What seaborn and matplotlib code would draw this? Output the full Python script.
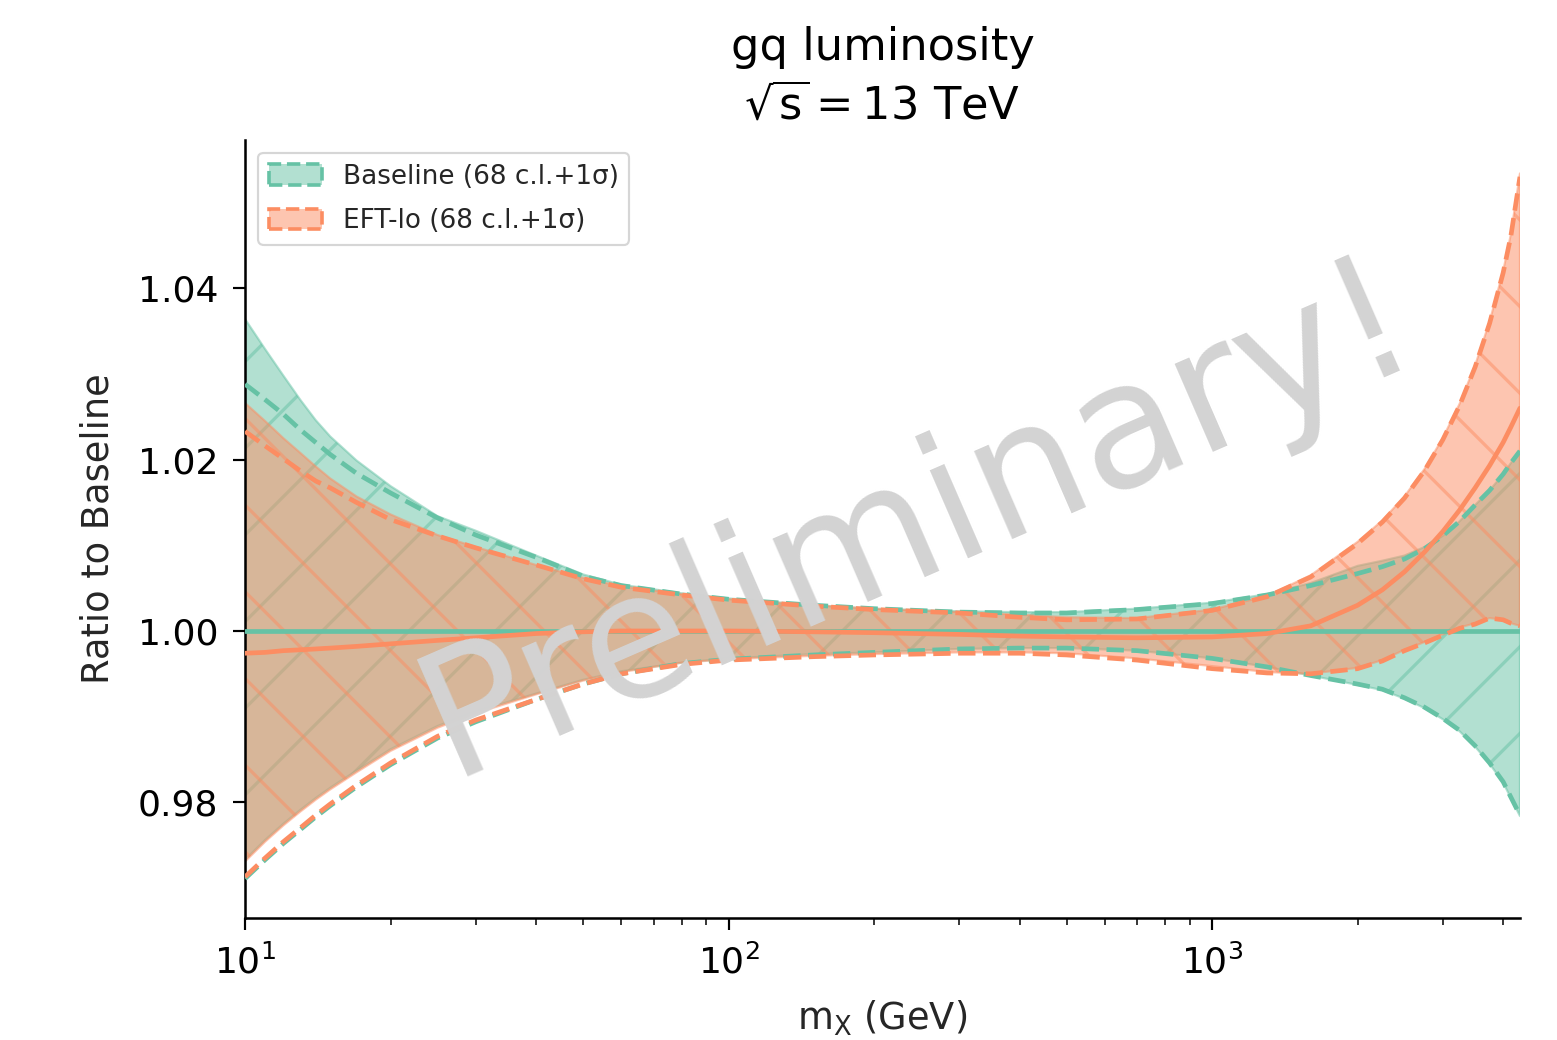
import matplotlib
matplotlib.use('Agg')
import matplotlib.pyplot as plt
import matplotlib.patches as mpatches
import seaborn as sns

# gq 루미노시티 비율 (Baseline 대비), sqrt(s) = 13 TeV
mx = [10, 11, 12, 13, 14, 15, 17, 20, 25, 30, 40, 50, 60, 80, 100, 150, 200, 300, 400, 500,
      700, 1000, 1300, 1600, 2000, 2250, 2500, 2750, 3000, 3250, 3500, 3750, 4000, 4150, 4333]

# Baseline : 중심값, 68 c.l. 밴드, 1 sigma
base_cv = [1.0] * len(mx)
base_up68 = [1.0364, 1.0329, 1.0298, 1.0270, 1.0246, 1.0227, 1.0199, 1.0169, 1.0134, 1.0117,
             1.0088, 1.0066, 1.0054, 1.0044, 1.0038, 1.0030, 1.0026, 1.0023, 1.0022, 1.0022,
             1.0026, 1.0033, 1.0043, 1.0056, 1.0076, 1.0082, 1.0088, 1.0098, 1.0111, 1.0128,
             1.0147, 1.0164, 1.0183, 1.0196, 1.0210]
base_dn68 = [0.9733, 0.9756, 0.9775, 0.9791, 0.9805, 0.9817, 0.9837, 0.9862, 0.9889, 0.9906,
             0.9927, 0.9943, 0.9953, 0.9963, 0.9968, 0.9973, 0.9975, 0.9979, 0.9980, 0.9980,
             0.9977, 0.9968, 0.9958, 0.9948, 0.9937, 0.9931, 0.9921, 0.9910, 0.9897, 0.9883,
             0.9865, 0.9845, 0.9823, 0.9805, 0.9784]
base_up1s = [1.0288, 1.0270, 1.0253, 1.0235, 1.0220, 1.0206, 1.0184, 1.0161, 1.0132, 1.0112,
             1.0086, 1.0064, 1.0053, 1.0043, 1.0037, 1.0030, 1.0026, 1.0022, 1.0021, 1.0021,
             1.0025, 1.0032, 1.0042, 1.0053, 1.0067, 1.0075, 1.0084, 1.0096, 1.0111, 1.0128,
             1.0147, 1.0164, 1.0183, 1.0196, 1.0210]
base_dn1s = [0.9711, 0.9733, 0.9752, 0.9768, 0.9783, 0.9796, 0.9818, 0.9844, 0.9875, 0.9894,
             0.9920, 0.9938, 0.9950, 0.9962, 0.9967, 0.9972, 0.9975, 0.9979, 0.9980, 0.9980,
             0.9977, 0.9968, 0.9958, 0.9948, 0.9938, 0.9932, 0.9922, 0.9911, 0.9898, 0.9884,
             0.9866, 0.9846, 0.9824, 0.9806, 0.9785]

# EFT-lo
eft_cv = [0.9974, 0.9975, 0.9977, 0.9978, 0.9979, 0.9980, 0.9982, 0.9985, 0.9989, 0.9992,
          0.9997, 0.9999, 1.0000, 1.0000, 1.0000, 0.9999, 0.9998, 0.9996, 0.9994, 0.9993,
          0.9992, 0.9993, 0.9997, 1.0006, 1.0030, 1.0048, 1.0069, 1.0092, 1.0116, 1.0141,
          1.0167, 1.0193, 1.0220, 1.0238, 1.0260]
eft_up68 = [1.0266, 1.0245, 1.0225, 1.0208, 1.0192, 1.0178, 1.0157, 1.0136, 1.0112, 1.0098,
            1.0077, 1.0062, 1.0052, 1.0043, 1.0037, 1.0030, 1.0026, 1.0022, 1.0019, 1.0016,
            1.0015, 1.0025, 1.0041, 1.0065, 1.0104, 1.0129, 1.0157, 1.0189, 1.0225, 1.0265,
            1.0310, 1.0361, 1.0420, 1.0463, 1.0534]
eft_dn68 = [0.9731, 0.9754, 0.9773, 0.9789, 0.9803, 0.9815, 0.9835, 0.9860, 0.9887, 0.9904,
            0.9926, 0.9942, 0.9952, 0.9963, 0.9967, 0.9971, 0.9973, 0.9975, 0.9975, 0.9974,
            0.9968, 0.9959, 0.9952, 0.9950, 0.9957, 0.9966, 0.9978, 0.9987, 0.9996, 1.0004,
            1.0009, 1.0015, 1.0013, 1.0009, 1.0006]
eft_up1s = [1.0233, 1.0216, 1.0201, 1.0187, 1.0175, 1.0167, 1.0150, 1.0130, 1.0111, 1.0097,
            1.0077, 1.0061, 1.0051, 1.0042, 1.0036, 1.0029, 1.0025, 1.0021, 1.0016, 1.0013,
            1.0014, 1.0024, 1.0040, 1.0063, 1.0102, 1.0127, 1.0155, 1.0187, 1.0223, 1.0263,
            1.0308, 1.0359, 1.0418, 1.0461, 1.0530]
eft_dn1s = [0.9713, 0.9735, 0.9754, 0.9770, 0.9785, 0.9798, 0.9820, 0.9846, 0.9877, 0.9896,
            0.9920, 0.9938, 0.9950, 0.9961, 0.9966, 0.9970, 0.9972, 0.9974, 0.9974, 0.9972,
            0.9966, 0.9956, 0.9951, 0.9950, 0.9956, 0.9965, 0.9977, 0.9986, 0.9995, 1.0003,
            1.0008, 1.0015, 1.0013, 1.0009, 1.0006]

labels = ['Baseline (68 c.l.+1σ)', 'EFT-lo (68 c.l.+1σ)']

sns.set_style('ticks')
plt.rcParams['font.family'] = ['DejaVu Sans']
plt.rcParams['mathtext.default'] = 'regular'
plt.rcParams['hatch.linewidth'] = 0.45

# 해치 간격을 원본처럼 넓게 하려고 dpi를 크게 잡음
DPI = 520
fig = plt.figure(figsize=(1557 / DPI, 1040 / DPI), dpi=DPI)
ax = fig.add_axes([0.1574, 0.1173, 0.8188, 0.7481])
ax.set_xscale('log')

pal = sns.color_palette('Set2')
c_base, c_eft = pal[0], pal[1]

ax.fill_between(mx, base_dn68, base_up68, color=c_base, alpha=0.5, hatch='//', linewidth=0.3, zorder=1)
ax.fill_between(mx, eft_dn68, eft_up68, color=c_eft, alpha=0.5, hatch='\\\\', linewidth=0.3, zorder=1)

for ys, c, ls in [(base_up1s, c_base, '--'), (base_dn1s, c_base, '--'), (base_cv, c_base, '-'),
                  (eft_up1s, c_eft, '--'), (eft_dn1s, c_eft, '--'), (eft_cv, c_eft, '-')]:
    sns.lineplot(x=mx, y=ys, ax=ax, color=c, linestyle=ls, linewidth=0.65, estimator=None, zorder=3)

handles = [mpatches.Patch(facecolor=(*c, 0.5), edgecolor=c, linestyle='--', linewidth=0.5) for c in (c_base, c_eft)]
leg = ax.legend(handles, labels, loc='upper left', fontsize=3.65, labelspacing=0.7, handleheight=0.8)
leg.get_frame().set_linewidth(0.3)

ax.text(0.528, 0.512, 'Preliminary!', transform=ax.transAxes, fontsize=24.3, color='lightgray',
        rotation=23.5, ha='center', va='center', zorder=10)

ax.set_xlim(10, 4333)
ax.set_ylim(0.9665, 1.0573)
ax.set_yticks([0.98, 1.00, 1.02, 1.04])

ax.set_title('gq luminosity\n$\\sqrt{s} = 13$ TeV', fontsize=6.2, pad=2.8, linespacing=1.45, color='black')
ax.set_xlabel('$m_X$ (GeV)', fontsize=5.1, labelpad=2.5)
ax.set_ylabel('Ratio to Baseline', fontsize=5.1, labelpad=3)

ax.tick_params(which='major', labelsize=5, length=1.7, width=0.3, pad=2, colors='black')
ax.tick_params(which='minor', length=1.0, width=0.25)
sns.despine(ax=ax)
for s in ax.spines.values():
    s.set_linewidth(0.35)
    s.set_color('black')

fig.savefig('out.png', dpi=DPI)
